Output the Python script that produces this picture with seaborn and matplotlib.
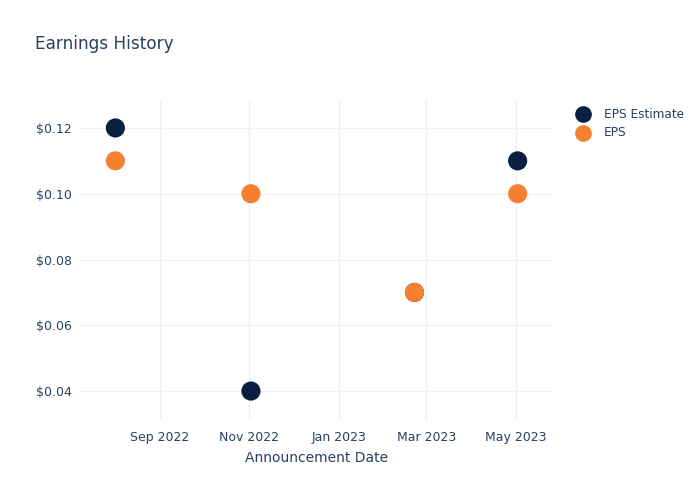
import matplotlib
matplotlib.use("Agg")
import matplotlib.pyplot as plt
import matplotlib.dates as mdates
from matplotlib.ticker import FuncFormatter
import seaborn as sns
import pandas as pd

dates = ["2022-08-02", "2022-11-02", "2023-02-21", "2023-05-02"]
eps_estimate = [0.12, 0.04, 0.07, 0.11]
eps_actual = [0.11, 0.10, 0.07, 0.10]
series_names = ["EPS Estimate", "EPS"]
series_colors = ["#0b1f42", "#f58032"]

df = pd.DataFrame({
    "date": pd.to_datetime(dates * 2),
    "value": eps_estimate + eps_actual,
    "series": [series_names[0]] * len(dates) + [series_names[1]] * len(dates),
})

sns.set_theme(style="white")
plt.rcParams['font.family'] = ['DejaVu Sans']
text_color = "#2a3f5f"
grid_color = "#ebf0f8"

fig = plt.figure(figsize=(7, 5), dpi=100)
ax = fig.add_axes([80/700, 80/500, (553-80)/700, 320/500])

sns.scatterplot(data=df, x="date", y="value", hue="series",
                palette=dict(zip(series_names, series_colors)),
                s=190, edgecolor="none", linewidth=0, ax=ax, legend=False, zorder=3)

ax.set_xlim(pd.Timestamp("2022-07-09"), pd.Timestamp("2023-05-26"))
ax.set_ylim(0.0312, 0.1285)
ax.set_yticks([0.04, 0.06, 0.08, 0.10, 0.12])
ax.yaxis.set_major_formatter(FuncFormatter(lambda v, p: f"${v:.2f}"))
ax.set_xticks(pd.to_datetime(["2022-09-01", "2022-11-01", "2023-01-01", "2023-03-01", "2023-05-01"]))
ax.xaxis.set_major_formatter(mdates.DateFormatter("%b %Y"))
ax.grid(True, color=grid_color, linewidth=1)
ax.set_axisbelow(True)
for s in ax.spines.values():
    s.set_visible(False)
ax.tick_params(axis="both", length=0, colors=text_color, labelsize=9)
ax.tick_params(axis="x", pad=8)
ax.tick_params(axis="y", pad=6)
ax.set_xlabel("Announcement Date", color=text_color, fontsize=10, labelpad=5)
ax.set_ylabel("")

fig.text(35/700, 1 - 44/500, "Earnings History", color=text_color, fontsize=12.2, va="center", ha="left")

# legend
for i, (name, col) in enumerate(zip(series_names, series_colors)):
    y = 1 - (114 + 19 * i) / 500
    fig.lines.append(plt.Line2D([583/700], [y], marker="o", markersize=11, color=col,
                                linestyle="none", transform=fig.transFigure))
    fig.text(604/700, y, name, color=text_color, fontsize=8.7, va="center", ha="left")

fig.savefig("out.png", dpi=100, facecolor="white")
